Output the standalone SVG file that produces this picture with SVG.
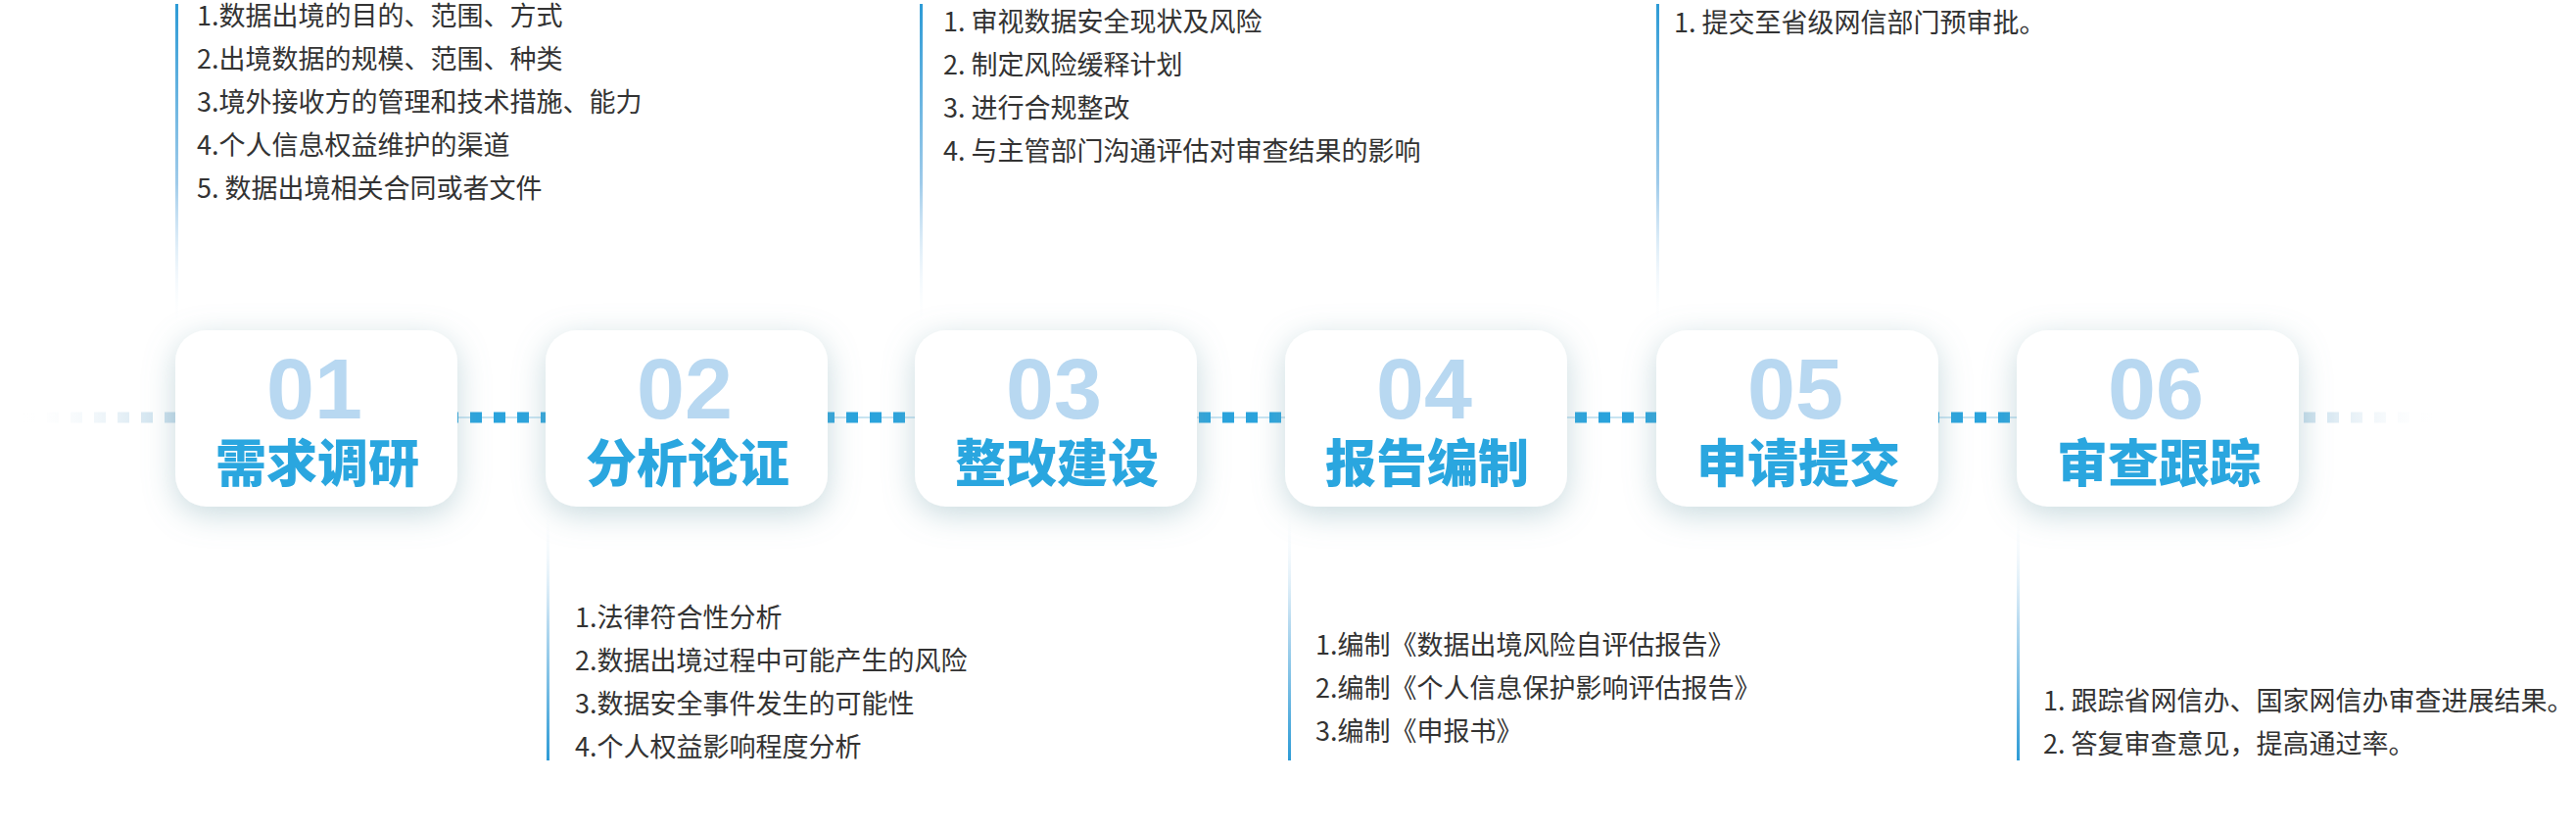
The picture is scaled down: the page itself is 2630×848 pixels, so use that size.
<svg xmlns="http://www.w3.org/2000/svg" width="2630" height="848" viewBox="0 0 2630 848">
<defs>
<style>
.box{fill:#ffffff;filter:url(#shadow);}
.num{font-family:"Liberation Sans","Noto Sans",sans-serif;font-weight:700;font-size:88px;fill:#b8d8f1;text-anchor:middle;}
.title{font-family:"Noto Sans CJK SC","Noto Sans",sans-serif;font-weight:900;font-size:52px;fill:#2aa6df;text-anchor:middle;}
.item{font-family:"Noto Sans CJK SC","Noto Sans",sans-serif;font-size:27px;fill:#333333;}
.vup{fill:url(#gUp);}
.vdown{fill:url(#gDown);}
</style>
<filter id="shadow" x="-30%" y="-40%" width="160%" height="180%">
<feDropShadow dx="0" dy="8" stdDeviation="16" flood-color="#7ea7b3" flood-opacity="0.42"/>
</filter>
<linearGradient id="gUp" x1="0" y1="0" x2="0" y2="1">
<stop offset="0" stop-color="#2d9bd6"/>
<stop offset="0.55" stop-color="#9fcbea"/>
<stop offset="1" stop-color="#ffffff" stop-opacity="0"/>
</linearGradient>
<linearGradient id="gDown" x1="0" y1="0" x2="0" y2="1">
<stop offset="0" stop-color="#ffffff" stop-opacity="0"/>
<stop offset="0.45" stop-color="#b9dbf0"/>
<stop offset="1" stop-color="#2d9bd6"/>
</linearGradient>
<linearGradient id="fadeL" gradientUnits="userSpaceOnUse" x1="20" y1="0" x2="180" y2="0">
<stop offset="0" stop-color="#ffffff" stop-opacity="0"/>
<stop offset="1" stop-color="#c3dbea"/>
</linearGradient>
<linearGradient id="fadeR" gradientUnits="userSpaceOnUse" x1="2347" y1="0" x2="2490" y2="0">
<stop offset="0" stop-color="#c3dbea"/>
<stop offset="1" stop-color="#ffffff" stop-opacity="0"/>
</linearGradient>
<clipPath id="midClip"><rect x="179" y="400" width="2168" height="60"/></clipPath>
<clipPath id="rightClip"><rect x="2347" y="400" width="200" height="60"/></clipPath>
</defs>
<rect width="2630" height="848" fill="#ffffff"/>

<g id="connectors">
<line x1="179" y1="426" x2="2347" y2="426" stroke="#c8e4f2" stroke-width="2"/>
<line x1="0" y1="426" x2="2630" y2="426" stroke="#2aa3dc" stroke-width="11" stroke-dasharray="12 12" clip-path="url(#midClip)"/>
<line x1="0" y1="426" x2="180" y2="426" stroke="url(#fadeL)" stroke-width="11" stroke-dasharray="12 12"/>
<line x1="0" y1="426" x2="2490" y2="426" stroke="url(#fadeR)" stroke-width="11" stroke-dasharray="12 12" clip-path="url(#rightClip)"/>
</g>

<g id="node1">
<rect class="vup" x="179" y="4" width="3" height="333"/>
<rect class="box" x="179" y="337" width="288" height="180" rx="32"/>
<text class="num" x="321" y="427">01</text>
<text class="title" x="324" y="492">需求调研</text>
<text class="item" x="201" y="26">1.数据出境的目的、范围、方式</text>
<text class="item" x="201" y="70">2.出境数据的规模、范围、种类</text>
<text class="item" x="201" y="114">3.境外接收方的管理和技术措施、能力</text>
<text class="item" x="201" y="158">4.个人信息权益维护的渠道</text>
<text class="item" x="201" y="202">5. 数据出境相关合同或者文件</text>
</g>

<g id="node2">
<rect class="vdown" x="558" y="517" width="3" height="259"/>
<rect class="box" x="557" y="337" width="288" height="180" rx="32"/>
<text class="num" x="699" y="427">02</text>
<text class="title" x="702" y="492">分析论证</text>
<text class="item" x="587" y="640">1.法律符合性分析</text>
<text class="item" x="587" y="684">2.数据出境过程中可能产生的风险</text>
<text class="item" x="587" y="728">3.数据安全事件发生的可能性</text>
<text class="item" x="587" y="772">4.个人权益影响程度分析</text>
</g>

<g id="node3">
<rect class="vup" x="939" y="4" width="3" height="333"/>
<rect class="box" x="934" y="337" width="288" height="180" rx="32"/>
<text class="num" x="1076" y="427">03</text>
<text class="title" x="1079" y="492">整改建设</text>
<text class="item" x="963" y="32">1. 审视数据安全现状及风险</text>
<text class="item" x="963" y="76">2. 制定风险缓释计划</text>
<text class="item" x="963" y="120">3. 进行合规整改</text>
<text class="item" x="963" y="164">4. 与主管部门沟通评估对审查结果的影响</text>
</g>

<g id="node4">
<rect class="vdown" x="1315" y="517" width="3" height="259"/>
<rect class="box" x="1312" y="337" width="288" height="180" rx="32"/>
<text class="num" x="1454" y="427">04</text>
<text class="title" x="1457" y="492">报告编制</text>
<text class="item" x="1343" y="668">1.编制《数据出境风险自评估报告》</text>
<text class="item" x="1343" y="712">2.编制《个人信息保护影响评估报告》</text>
<text class="item" x="1343" y="756">3.编制《申报书》</text>
</g>

<g id="node5">
<rect class="vup" x="1691" y="4" width="3" height="333"/>
<rect class="box" x="1691" y="337" width="288" height="180" rx="32"/>
<text class="num" x="1833" y="427">05</text>
<text class="title" x="1836" y="492">申请提交</text>
<text class="item" x="1709" y="33">1. 提交至省级网信部门预审批。</text>
</g>

<g id="node6">
<rect class="vdown" x="2059" y="517" width="3" height="259"/>
<rect class="box" x="2059" y="337" width="288" height="180" rx="32"/>
<text class="num" x="2201" y="427">06</text>
<text class="title" x="2204" y="492">审查跟踪</text>
<text class="item" x="2086" y="725">1. 跟踪省网信办、国家网信办审查进展结果。</text>
<text class="item" x="2086" y="769">2. 答复审查意见，提高通过率。</text>
</g>
</svg>
